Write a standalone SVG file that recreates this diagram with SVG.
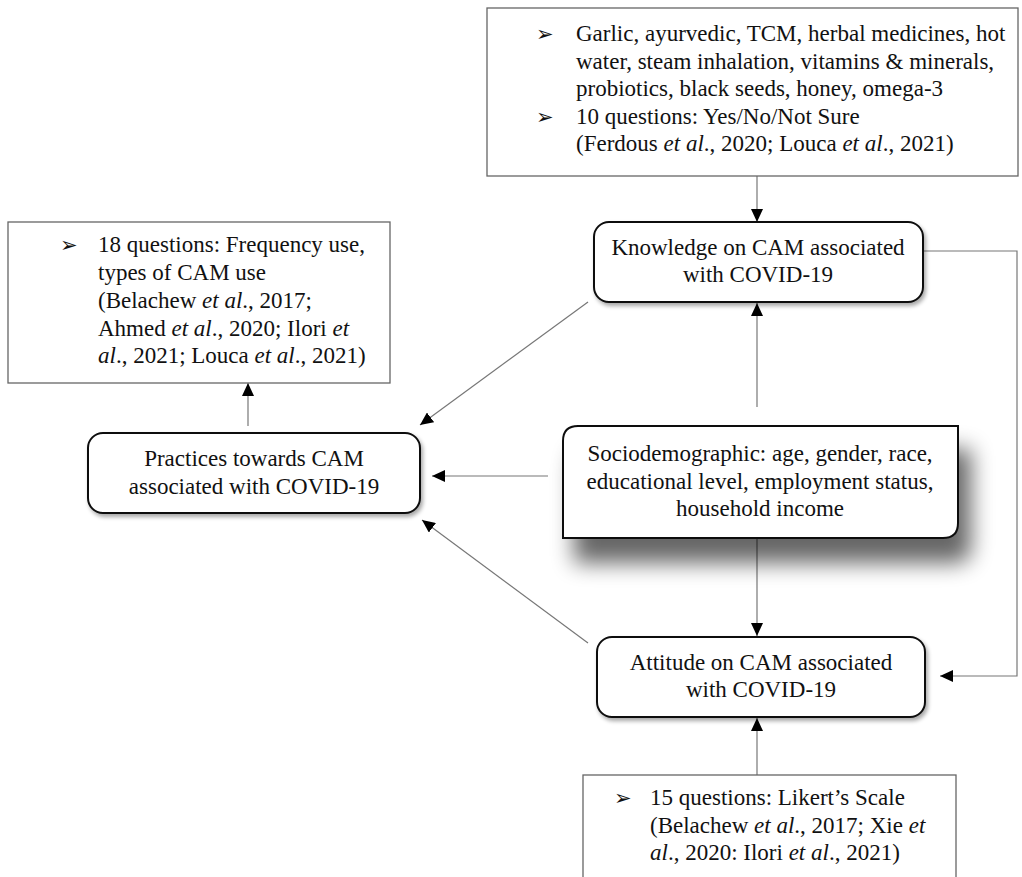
<svg xmlns="http://www.w3.org/2000/svg" width="1022" height="877" viewBox="0 0 1022 877">
<style>
  text { font-family: "Liberation Serif", "Times New Roman", serif; font-size: 23px; fill: #111; }
  .c { text-anchor: middle; }
  .b { font-family: "DejaVu Sans", sans-serif; font-size: 21px; }
  .it { font-style: italic; }
  .plain { fill: #fff; stroke: #666; stroke-width: 1.3; }
  .rnd { fill: #fff; stroke: #111; stroke-width: 2; }
  .conn { fill: none; stroke: #777; stroke-width: 1.2; }
</style>
<defs>
  <marker id="ah" markerUnits="userSpaceOnUse" markerWidth="14" markerHeight="12" refX="13" refY="6" orient="auto">
    <path d="M0,0 L13,6 L0,12 Z" fill="#000"/>
  </marker>
  <filter id="sh" x="-10%" y="-20%" width="130%" height="150%">
    <feGaussianBlur in="SourceAlpha" stdDeviation="2"/>
    <feOffset dx="2" dy="3" result="o"/>
    <feComponentTransfer><feFuncA type="linear" slope="0.35"/></feComponentTransfer>
    <feMerge><feMergeNode/><feMergeNode in="SourceGraphic"/></feMerge>
  </filter>
  <filter id="bigsh" x="-20%" y="-40%" width="160%" height="220%">
    <feGaussianBlur in="SourceAlpha" stdDeviation="11"/>
    <feOffset dx="12" dy="24" result="o"/>
    <feComponentTransfer><feFuncA type="linear" slope="0.6"/></feComponentTransfer>
    <feMerge><feMergeNode/><feMergeNode in="SourceGraphic"/></feMerge>
  </filter>
</defs>

<g id="connectors">
  <line class="conn" x1="757" y1="176" x2="757" y2="222" marker-end="url(#ah)"/>
  <line class="conn" x1="757" y1="407" x2="757" y2="303" marker-end="url(#ah)"/>
  <line class="conn" x1="757" y1="538" x2="757" y2="636" marker-end="url(#ah)"/>
  <line class="conn" x1="548" y1="476" x2="432" y2="476" marker-end="url(#ah)"/>
  <line class="conn" x1="588" y1="302" x2="420" y2="425" marker-end="url(#ah)"/>
  <line class="conn" x1="588" y1="643" x2="422" y2="520" marker-end="url(#ah)"/>
  <line class="conn" x1="248" y1="426" x2="248" y2="383" marker-end="url(#ah)"/>
  <polyline class="conn" points="923,251 1017,251 1017,676 940,676" marker-end="url(#ah)"/>
  <line class="conn" x1="757" y1="775" x2="757" y2="718" marker-end="url(#ah)"/>
</g>

<g id="node-cam-list">
  <rect class="plain" x="487" y="8" width="531" height="168"/>
  <text class="b" x="536" y="41">➢</text>
  <text x="576" y="41">Garlic, ayurvedic, TCM, herbal medicines, hot</text>
  <text x="576" y="68.5">water, steam inhalation, vitamins &amp; minerals,</text>
  <text x="576" y="96">probiotics, black seeds, honey, omega-3</text>
  <text class="b" x="536" y="123.5">➢</text>
  <text x="576" y="123.5">10 questions: Yes/No/Not Sure</text>
  <text x="576" y="151">(Ferdous <tspan class="it">et al</tspan>., 2020; Louca <tspan class="it">et al</tspan>., 2021)</text>
</g>

<g id="node-practice-items">
  <rect class="plain" x="8" y="222" width="382" height="161"/>
  <text class="b" x="60" y="252">➢</text>
  <text x="98" y="252">18 questions: Frequency use,</text>
  <text x="98" y="280">types of CAM use</text>
  <text x="98" y="308">(Belachew <tspan class="it">et al</tspan>., 2017;</text>
  <text x="98" y="336">Ahmed <tspan class="it">et al</tspan>., 2020; Ilori <tspan class="it">et</tspan></text>
  <text x="98" y="363"><tspan class="it">al</tspan>., 2021; Louca <tspan class="it">et al</tspan>., 2021)</text>
</g>

<g id="node-knowledge">
  <rect class="rnd" x="594" y="222" width="329" height="80" rx="15" filter="url(#sh)"/>
  <text class="c" x="758" y="255">Knowledge on CAM associated</text>
  <text class="c" x="758" y="282">with COVID-19</text>
</g>

<g id="node-practices">
  <rect class="rnd" x="88" y="433" width="332" height="80" rx="15" filter="url(#sh)"/>
  <text class="c" x="254" y="466">Practices towards CAM</text>
  <text class="c" x="254" y="494">associated with COVID-19</text>
</g>

<g id="node-sociodemographic">
  <path class="rnd" d="M563,441 Q563,426 578,426 L958,426 L958,523 Q958,538 943,538 L563,538 Z" filter="url(#bigsh)"/>
  <text class="c" x="760" y="461">Sociodemographic: age, gender, race,</text>
  <text class="c" x="760" y="489">educational level, employment status,</text>
  <text class="c" x="760" y="516">household income</text>
</g>

<g id="node-attitude">
  <rect class="rnd" x="597" y="637" width="328" height="80" rx="15" filter="url(#sh)"/>
  <text class="c" x="761" y="670">Attitude on CAM associated</text>
  <text class="c" x="761" y="697">with COVID-19</text>
</g>

<g id="node-attitude-items">
  <rect class="plain" x="583" y="775" width="373" height="120"/>
  <text class="b" x="614" y="805">➢</text>
  <text x="650" y="805">15 questions: Likert’s Scale</text>
  <text x="650" y="833">(Belachew <tspan class="it">et al</tspan>., 2017; Xie <tspan class="it">et</tspan></text>
  <text x="650" y="860"><tspan class="it">al</tspan>., 2020: Ilori <tspan class="it">et al</tspan>., 2021)</text>
</g>
</svg>
